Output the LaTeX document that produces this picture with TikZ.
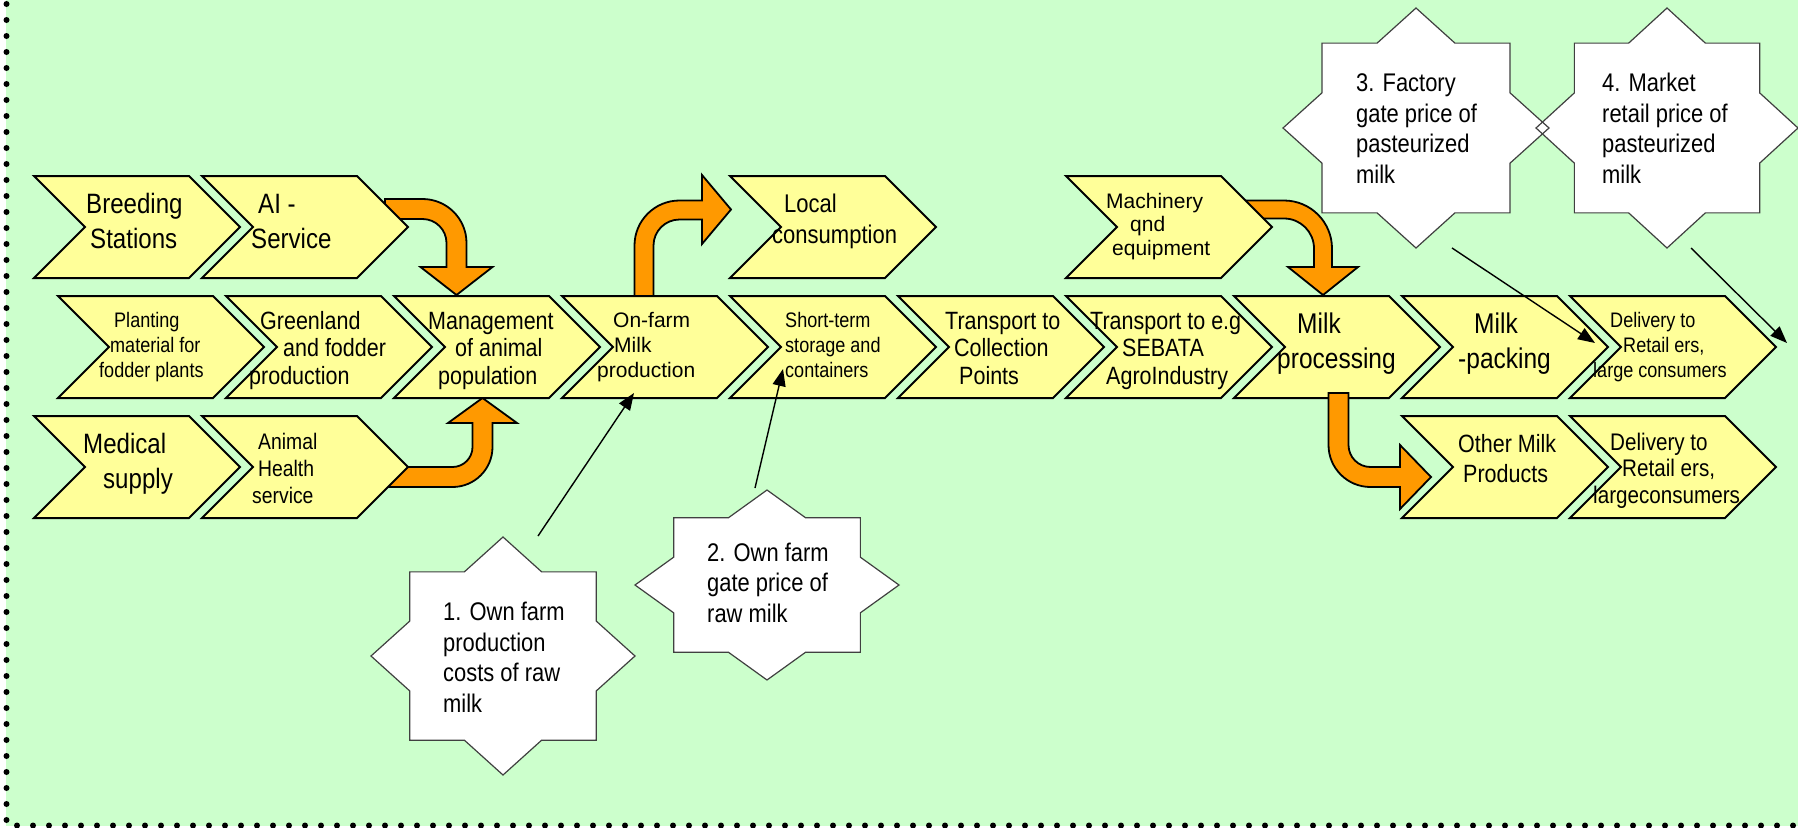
\documentclass[tikz,border=0pt]{standalone}
\usepackage{fontspec}
\usetikzlibrary{arrows.meta,calc}
\newfontfamily\nf{Liberation Sans}[FakeStretch=0.86]
\newfontfamily\wf{Liberation Sans}
\definecolor{paper}{HTML}{CCFFCC}
\definecolor{chevyellow}{HTML}{FFFF99}
\definecolor{arroworange}{HTML}{FF9900}
\definecolor{stargray}{HTML}{404040}

% chevron: named box node + outline drawn from its anchors
\newcommand\chevron[3]{%
  \node[chevbox] (#1) at ({#2+103},{#3+51}) {};
  \path[chevline] (#1.north west) -- ([xshift=-51pt]#1.north east) -- (#1.east)
    -- ([xshift=-51pt]#1.south east) -- (#1.south west) -- ([xshift=51pt]#1.west) -- cycle;
}
% eight-point star: style, centre x, centre y, x radius, y radius
\newcommand\eightstar[5]{%
  \path[#1] plot[samples at={0,...,15}, variable=\k]
    ({#2+#4*(1-0.2346*mod(\k,2))*cos(22.5*\k)},{#3+#5*(1-0.2346*mod(\k,2))*sin(22.5*\k)}) -- cycle;
}

\begin{document}
\begin{tikzpicture}[x=1pt, y=-1pt,
  chevbox/.style={rectangle, draw=none, minimum width=206pt, minimum height=102pt, inner sep=0pt, outer sep=0pt},
  chevline/.style={draw=black, fill=chevyellow, line width=2pt, line join=miter},
  blockarrow/.style={draw=black, fill=arroworange, line width=1.8pt, line join=miter},
  starfill/.style={fill=white},
  starline/.style={draw=stargray, line width=1.2pt},
  pointer/.style={draw=black, line width=1.4pt, -{Triangle[length=17pt,width=13pt]}},
  % labels are placed by the baseline of their last line
  lbl/.style={inner sep=0pt, anchor=base west, align=left, text=black},
  fA/.style={font=\nf\fontsize{28}{35}\selectfont},
  fB/.style={font=\nf\fontsize{25}{27.5}\selectfont},
  fC/.style={font=\nf\fontsize{21}{24.8}\selectfont},
  fW/.style={font=\wf\fontsize{21}{24.8}\selectfont},
  fM/.style={font=\wf\fontsize{21}{23.5}\selectfont},
  fD/.style={font=\nf\fontsize{25.6}{31}\selectfont},
  fO/.style={font=\nf\fontsize{25}{30}\selectfont},
  fE/.style={font=\nf\fontsize{28.5}{35}\selectfont},
  fH/.style={font=\nf\fontsize{22.5}{27}\selectfont},
  fG/.style={font=\nf\fontsize{24}{26.5}\selectfont},
  fS/.style={font=\nf\fontsize{25.5}{30.4}\selectfont}]
\useasboundingbox (0,0) rectangle (1798,827);

% page background and dotted frame
\fill[paper] (6,-20) rectangle (1820,826);
\draw[line width=6pt, line cap=round, dash pattern=on 0pt off 16pt] (6.5,4) -- (6.5,825.5) -- (1820,825.5);

% bent block arrows lying behind the chevrons
\path[blockarrow] (385,199) -- (422.5,199) arc[start angle=90, end angle=0, radius=44pt]
  -- (466.5,267) -- (492.5,267) -- (456.5,295) -- (420.5,267) -- (446.5,267) -- (446.5,243)
  arc[start angle=0, end angle=90, radius=24pt] -- (385,219) -- cycle;
\path[blockarrow] (385,487) -- (452.5,487) arc[start angle=270, end angle=360, radius=40pt]
  -- (492.5,423) -- (517,423) -- (482.5,398) -- (448,423) -- (472.5,423) -- (472.5,447)
  arc[start angle=0, end angle=-90, radius=20pt] -- (385,467) -- cycle;
\path[blockarrow] (634.5,310) -- (634.5,245.5) arc[start angle=180, end angle=90, radius=45pt]
  -- (702,200.5) -- (702,175) -- (731,209.5) -- (702,244) -- (702,219.5) -- (679.5,219.5)
  arc[start angle=90, end angle=180, radius=26pt] -- (653.5,310) -- cycle;
\path[blockarrow] (1240,200.5) -- (1284,200.5) arc[start angle=90, end angle=0, radius=48pt]
  -- (1332,267) -- (1358,267) -- (1323,295) -- (1288,267) -- (1314,267) -- (1314,248.5)
  arc[start angle=0, end angle=90, radius=30pt] -- (1240,218.5) -- cycle;

% chevrons: upper row
\chevron{bs}{34}{176}
\chevron{ai}{202}{176}
\chevron{lc}{730}{176}
\chevron{mach}{1066}{176}
% main chain
\chevron{pl}{58}{296}
\chevron{gr}{226}{296}
\chevron{mg}{394}{296}
\chevron{of}{562}{296}
\chevron{st}{730}{296}
\chevron{tc}{898}{296}
\chevron{ts}{1066}{296}
\chevron{mp}{1234}{296}
\chevron{pk}{1402}{296}
\chevron{dl}{1570}{296}
% lower row
\chevron{md}{34}{416}
\chevron{ah}{202}{416}
\chevron{om}{1402}{416}
\chevron{dlb}{1570}{416}

% branch from milk processing to other milk products
\path[blockarrow] (1328.5,393) -- (1328.5,445) arc[start angle=180, end angle=270, radius=42pt]
  -- (1400,487) -- (1400,509) -- (1431,477) -- (1400,445) -- (1400,467) -- (1370.5,467)
  arc[start angle=270, end angle=180, radius=22pt] -- (1348.5,445) -- (1348.5,393) -- cycle;

% price points
\eightstar{starfill}{503}{656}{132}{119}
\eightstar{starfill}{767}{585}{132}{95}
\eightstar{starfill}{1667}{128}{131}{120}
\eightstar{starfill}{1416}{128}{133}{120}
\eightstar{starline}{503}{656}{132}{119}
\eightstar{starline}{767}{585}{132}{95}
\eightstar{starline}{1667}{128}{131}{120}
\eightstar{starline}{1416}{128}{133}{120}

% chevron texts
\node[lbl, fA] (bs-t) at (86,248) {Breeding\\\hspace*{4pt}Stations};
\node[lbl, fA] (ai-t) at (251,248) {\hspace*{7pt}AI -\\Service};
\node[lbl, fD] (lc-t) at (772,243) {\hspace*{12pt}Local\\consumption};
\node[lbl, fM] (mach-t) at (1106,255) {Machinery\\\hspace*{24pt}qnd\\\hspace*{6pt}equipment};
\node[lbl, fC] (pl-t) at (99,377) {\hspace*{15pt}Planting\\\hspace*{11pt}material for\\fodder plants};
\node[lbl, fB] (gr-t) at (249,384) {\hspace*{11pt}Greenland\\\hspace*{34pt}and fodder\\production};
\node[lbl, fB] (mg-t) at (428,384) {Management\\\hspace*{27pt}of animal\\\hspace*{10pt}population};
\node[lbl, fW] (of-t) at (597,377) {\hspace*{16pt}On-farm\\\hspace*{17pt}Milk\\production};
\node[lbl, fC] (st-t) at (785,377) {Short-term\\storage and\\containers};
\node[lbl, fB] (tc-t) at (945,384) {Transport to\\\hspace*{9pt}Collection\\\hspace*{14pt}Points};
\node[lbl, fB] (ts-t) at (1090,384) {Transport to e.g\\\hspace*{32pt}SEBATA\\\hspace*{16pt}AgroIndustry};
\node[lbl, fE] (mp-t) at (1277,368) {\hspace*{20pt}Milk\\processing};
\node[lbl, fE] (pk-t) at (1458,368) {\hspace*{16pt}Milk\\-packing};
\node[lbl, fC] (dl-t) at (1593,377) {\hspace*{17pt}Delivery to\\\hspace*{30pt}Retail ers,\\large consumers};
\node[lbl, fA] (md-t) at (83,488) {Medical\\\hspace*{20pt}supply};
\node[lbl, fH] (ah-t) at (252,503) {\hspace*{6pt}Animal\\\hspace*{6pt}Health\\service};
\node[lbl, fO] (om-t) at (1458,482) {Other Milk\\\hspace*{5pt}Products};
\node[lbl, fG] (dlb-t) at (1593,503) {\hspace*{17pt}Delivery to\\\hspace*{29pt}Retail ers,\\largeconsumers};

% star texts
\node[lbl, fS] (s1) at (443,712) {1. Own farm\\production\\costs of raw\\milk};
\node[lbl, fS] (s2) at (707,622) {2. Own farm\\gate price of\\raw milk};
\node[lbl, fS] (s3) at (1356,183) {3. Factory\\gate price of\\pasteurized\\milk};
\node[lbl, fS] (s4) at (1602,183) {4. Market\\retail price of\\pasteurized\\milk};

% pointers from the price points to the chain
\coordinate (p1) at (538,536);
\coordinate (p2) at (755,488);
\coordinate (p3) at (1452,248);
\coordinate (p4) at (1691,248);
\draw[pointer] (p1) -- ($(of.south)+(-31,-5)$);
\draw[pointer] (p2) -- ($(st.south)+(-50,-29)$);
\draw[pointer] (p3) -- ($(dl.west)+(25,-4)$);
\draw[pointer] (p4) -- ($(dl.east)+(11,-4)$);
\end{tikzpicture}
\end{document}
